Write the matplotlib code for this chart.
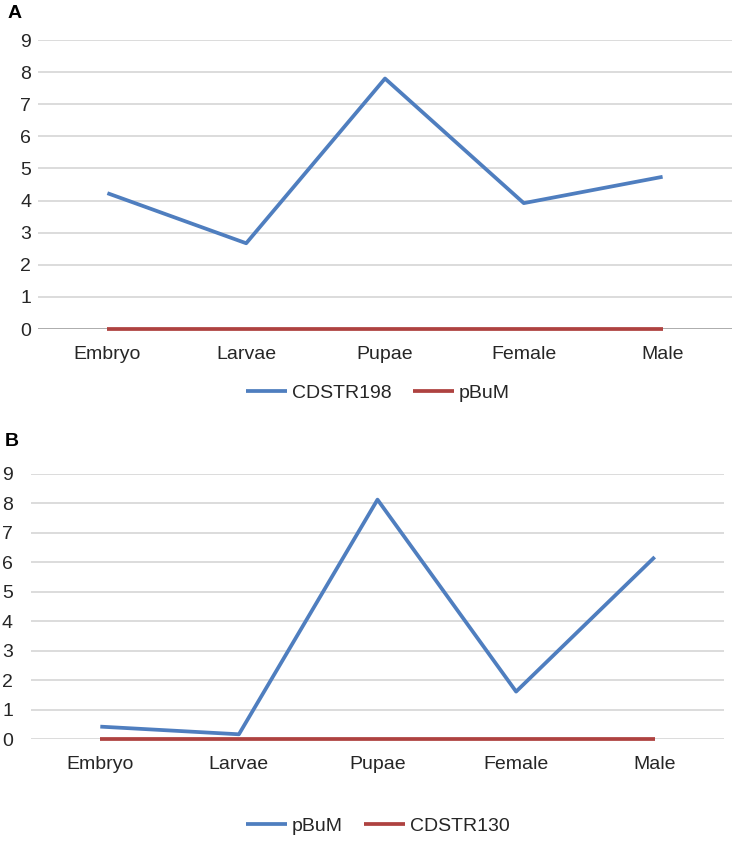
import matplotlib
matplotlib.use("Agg")
import matplotlib.pyplot as plt

categories = ["Embryo", "Larvae", "Pupae", "Female", "Male"]
a_cdstr198 = [4.23, 2.67, 7.80, 3.92, 4.74]
a_pbum = [0, 0, 0, 0, 0]
b_pbum = [0.42, 0.16, 8.13, 1.61, 6.18]
b_cdstr130 = [0, 0, 0, 0, 0]
yticks = list(range(10))

BLUE = "#4F7EBF"
RED = "#AE4240"
GRID = "#D9D9D9"
TXT = "#262626"
FS = 14

plt.rcParams["font.family"] = ["Liberation Sans", "DejaVu Sans"]

W, H = 734, 841
fig = plt.figure(figsize=(W / 100, H / 100), dpi=100)


def px_axes(x0, x1, ytop, ybot):
    return fig.add_axes([x0 / W, (H - ybot) / H, (x1 - x0) / W, (ybot - ytop) / H])


def style(ax, ypad, xpad, zero_color):
    ax.set_xlim(-0.5, len(categories) - 0.5)
    ax.set_ylim(0, 9)
    ax.set_yticks(yticks)
    ax.set_yticklabels([str(t) for t in yticks], fontsize=FS, color=TXT)
    ax.set_xticks(range(len(categories)))
    ax.set_xticklabels(categories, fontsize=FS, color=TXT)
    ax.tick_params(axis="y", length=0, pad=ypad)
    ax.tick_params(axis="x", length=0, pad=xpad)
    for s in ax.spines.values():
        s.set_visible(False)
    for t in yticks[1:]:
        ax.axhline(t, color=GRID, lw=1.3, zorder=0)
    ax.axhline(0, color=zero_color, lw=1.3, zorder=0)


x = list(range(len(categories)))

# Panel A
axA = px_axes(38, 732, 40, 329)
style(axA, 5, 12, "#A6A6A6")
lA1, = axA.plot(x, a_cdstr198, color=BLUE, lw=2.7, label="CDSTR198", solid_capstyle="butt", zorder=3)
lA2, = axA.plot(x, a_pbum, color=RED, lw=2.7, label="pBuM", solid_capstyle="butt", zorder=2, clip_on=False)
fig.legend(handles=[lA1, lA2], loc="center", bbox_to_anchor=(378 / W, (H - 393) / H),
           ncol=2, frameon=False, fontsize=FS, handlelength=2.1, handletextpad=0.25,
           columnspacing=1.1, labelcolor=TXT)
fig.text(8 / W, (H - 14) / H, "A", fontsize=14, fontweight="bold", va="center", ha="left")

# Panel B
axB = px_axes(31, 724, 474, 739)
style(axB, 13, 12, GRID)
lB1, = axB.plot(x, b_pbum, color=BLUE, lw=2.7, label="pBuM", solid_capstyle="butt", zorder=3)
lB2, = axB.plot(x, b_cdstr130, color=RED, lw=2.7, label="CDSTR130", solid_capstyle="butt", zorder=2, clip_on=False)
fig.legend(handles=[lB1, lB2], loc="center", bbox_to_anchor=(378 / W, (H - 826) / H),
           ncol=2, frameon=False, fontsize=FS, handlelength=2.1, handletextpad=0.25,
           columnspacing=1.1, labelcolor=TXT)
fig.text(5 / W, (H - 441) / H, "B", fontsize=14, fontweight="bold", va="center", ha="left")

fig.savefig("out.png", dpi=100)
